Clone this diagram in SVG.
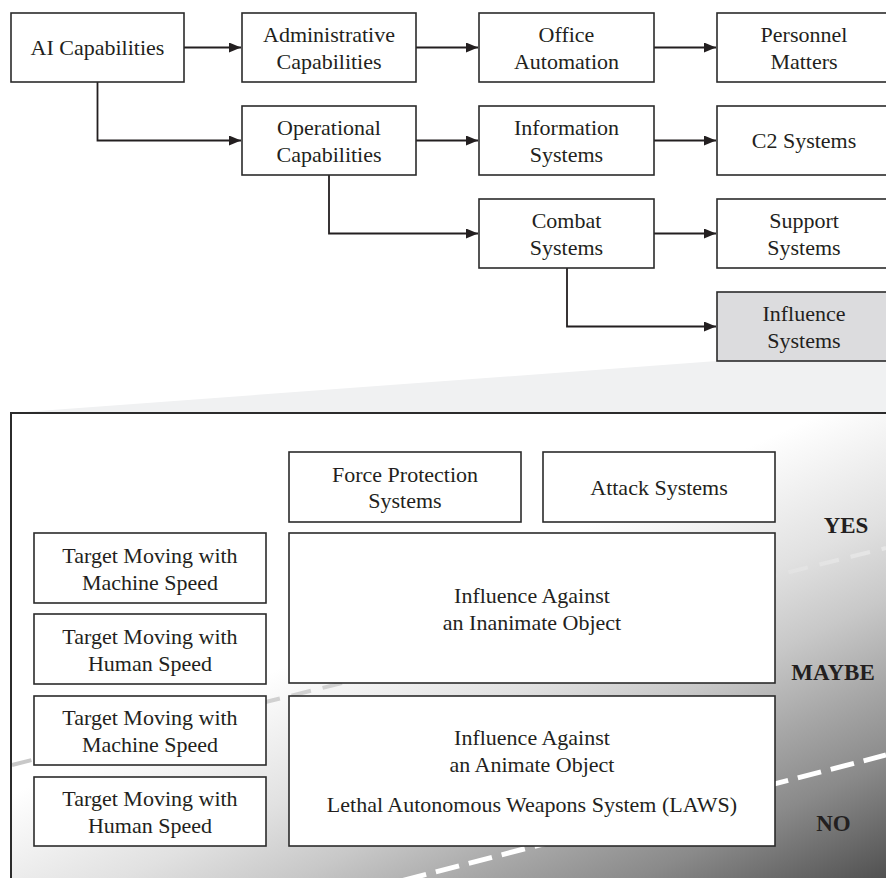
<svg xmlns="http://www.w3.org/2000/svg" width="886" height="878" viewBox="0 0 886 878">
<style>
.box{fill:#fff;stroke:#2b2b2b;stroke-width:1.6}
.gbox{fill:#dcdcde;stroke:#2b2b2b;stroke-width:1.6}
.t{font-family:"Liberation Serif","Times New Roman",serif;font-size:22px;fill:#231f20;text-anchor:middle}
.b{font-family:"Liberation Serif","Times New Roman",serif;font-size:23px;font-weight:bold;fill:#231f20;text-anchor:middle}
.con{fill:none;stroke:#231f20;stroke-width:1.8;marker-end:url(#arr)}
</style>
<defs>
<marker id="arr" markerUnits="userSpaceOnUse" markerWidth="12" markerHeight="10" refX="12" refY="5" orient="auto">
<path d="M0,0 L12,5 L0,10 z" fill="#231f20"/>
</marker>
<linearGradient id="pg" gradientUnits="userSpaceOnUse" x1="600" y1="517" x2="809" y2="960">
<stop offset="0" stop-color="#ffffff"/>
<stop offset="0.25" stop-color="#e1e1e1"/>
<stop offset="0.4" stop-color="#c8c8c8"/>
<stop offset="0.55" stop-color="#a8a8a8"/>
<stop offset="0.7" stop-color="#8a8a8a"/>
<stop offset="0.9" stop-color="#555555"/>
<stop offset="1" stop-color="#3e3e3e"/>
</linearGradient>
<linearGradient id="dg" gradientUnits="userSpaceOnUse" x1="12" y1="0" x2="886" y2="0">
<stop offset="0" stop-color="#c8c8c8"/>
<stop offset="0.5" stop-color="#d6d6d6"/>
<stop offset="1" stop-color="#e6e6e6"/>
</linearGradient>
</defs>
<rect width="886" height="878" fill="#fff"/>
<polygon points="717,361 886,361 886,413 11,413" fill="#f0f1f2"/>
<g id="panel">
<rect x="11" y="413" width="900" height="480" fill="url(#pg)"/>
<line x1="12" y1="765" x2="886" y2="548" stroke="url(#dg)" stroke-width="4" stroke-dasharray="20 12"/>
<line x1="370" y1="889" x2="886" y2="755" stroke="#ffffff" stroke-width="5" stroke-dasharray="24 10"/>
<rect x="11" y="413" width="900" height="480" fill="none" stroke="#2b2b2b" stroke-width="2"/>
</g>
<g id="connectors">
<path class="con" d="M184,47.5 H241"/>
<path class="con" d="M416,47.5 H478"/>
<path class="con" d="M654,47.5 H716"/>
<path class="con" d="M97.5,82 V140.5 H241"/>
<path class="con" d="M416,140.5 H478"/>
<path class="con" d="M654,140.5 H716"/>
<path class="con" d="M329,175 V233.5 H478"/>
<path class="con" d="M654,233.5 H716"/>
<path class="con" d="M567,268 V326.5 H716"/>
</g>
<g id="ai"><rect class="box" x="11" y="13" width="173" height="69"/><text class="t" x="97.5" y="55">AI Capabilities</text></g>
<g id="admin"><rect class="box" x="242" y="13" width="174" height="69"/><text class="t" x="329" y="42">Administrative</text><text class="t" x="329" y="68.5">Capabilities</text></g>
<g id="office"><rect class="box" x="479" y="13" width="175" height="69"/><text class="t" x="566.5" y="42">Office</text><text class="t" x="566.5" y="68.5">Automation</text></g>
<g id="personnel"><rect class="box" x="717" y="13" width="174" height="69"/><text class="t" x="804" y="42">Personnel</text><text class="t" x="804" y="68.5">Matters</text></g>
<g id="operational"><rect class="box" x="242" y="106" width="174" height="69"/><text class="t" x="329" y="135">Operational</text><text class="t" x="329" y="161.5">Capabilities</text></g>
<g id="information"><rect class="box" x="479" y="106" width="175" height="69"/><text class="t" x="566.5" y="135">Information</text><text class="t" x="566.5" y="161.5">Systems</text></g>
<g id="c2"><rect class="box" x="717" y="106" width="174" height="69"/><text class="t" x="804" y="148">C2 Systems</text></g>
<g id="combat"><rect class="box" x="479" y="199" width="175" height="69"/><text class="t" x="566.5" y="228">Combat</text><text class="t" x="566.5" y="254.5">Systems</text></g>
<g id="support"><rect class="box" x="717" y="199" width="174" height="69"/><text class="t" x="804" y="228">Support</text><text class="t" x="804" y="254.5">Systems</text></g>
<g id="influence"><rect class="gbox" x="717" y="292" width="174" height="69"/><text class="t" x="804" y="321">Influence</text><text class="t" x="804" y="347.5">Systems</text></g>
<g id="forceprot"><rect class="box" x="289" y="452" width="232" height="70"/><text class="t" x="405" y="481.5">Force Protection</text><text class="t" x="405" y="508">Systems</text></g>
<g id="attack"><rect class="box" x="543" y="452" width="232" height="70"/><text class="t" x="659" y="494.5">Attack Systems</text></g>
<g id="inanimate"><rect class="box" x="289" y="533" width="486" height="150"/><text class="t" x="532" y="603">Influence Against</text><text class="t" x="532" y="630">an Inanimate Object</text></g>
<g id="animate"><rect class="box" x="289" y="696" width="486" height="150"/><text class="t" x="532" y="745">Influence Against</text><text class="t" x="532" y="772">an Animate Object</text><text class="t" x="532" y="812">Lethal Autonomous Weapons System (LAWS)</text></g>
<g id="t1"><rect class="box" x="34" y="533" width="232" height="70"/><text class="t" x="150" y="562.5">Target Moving with</text><text class="t" x="150" y="589.5">Machine Speed</text></g>
<g id="t2"><rect class="box" x="34" y="614" width="232" height="70"/><text class="t" x="150" y="643.5">Target Moving with</text><text class="t" x="150" y="670.5">Human Speed</text></g>
<g id="t3"><rect class="box" x="34" y="696" width="232" height="69"/><text class="t" x="150" y="725">Target Moving with</text><text class="t" x="150" y="752">Machine Speed</text></g>
<g id="t4"><rect class="box" x="34" y="777" width="232" height="69"/><text class="t" x="150" y="806">Target Moving with</text><text class="t" x="150" y="833">Human Speed</text></g>
<g id="labels">
<text class="b" x="846" y="533">YES</text>
<text class="b" x="833" y="680">MAYBE</text>
<text class="b" x="833.5" y="831">NO</text>
</g>
</svg>
